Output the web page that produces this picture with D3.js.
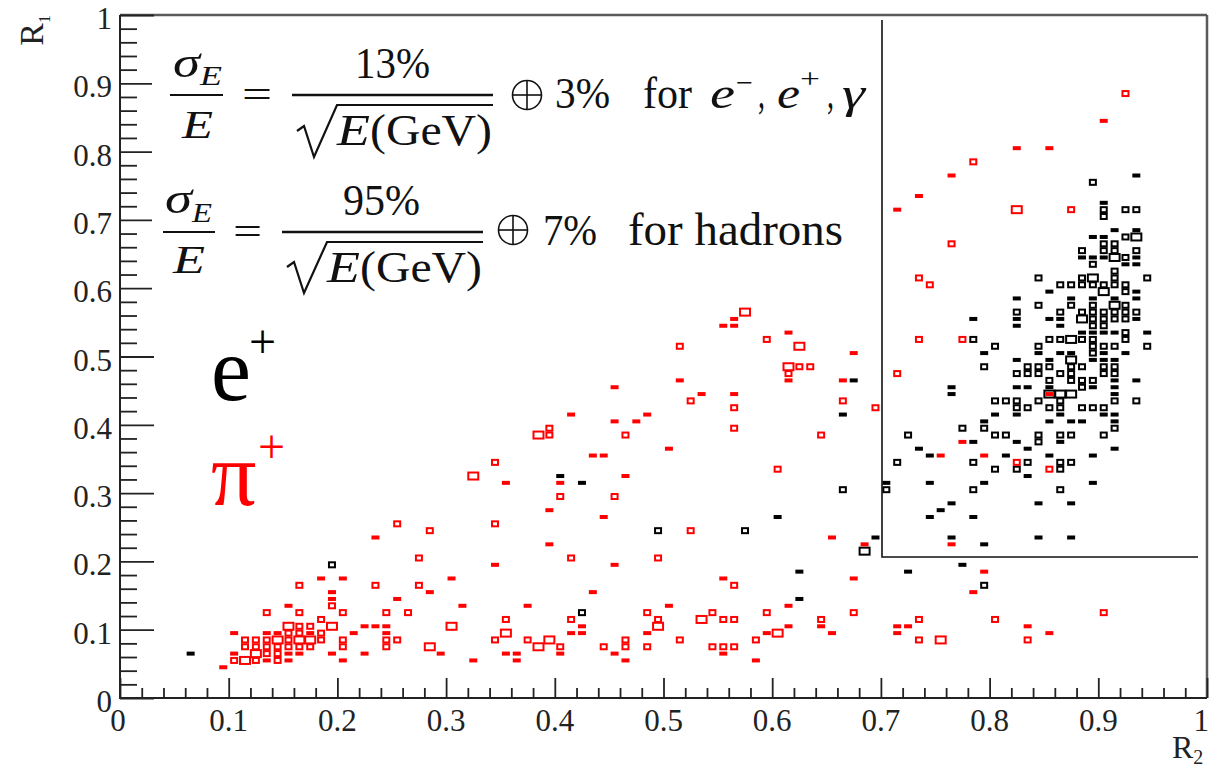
<!DOCTYPE html>
<html><head><meta charset="utf-8">
<script src="https://cdn.jsdelivr.net/npm/d3@7"></script>
<style>
html,body{margin:0;padding:0;background:#fff;overflow:hidden}
svg text{font-family:"Liberation Serif","Times New Roman","DejaVu Serif",serif}
</style>
</head><body>
<svg id="chart" width="1209" height="769"></svg>
<script>
// ---------------- data ----------------
const tickValues = [0, 0.1, 0.2, 0.3, 0.4, 0.5, 0.6, 0.7, 0.8, 0.9, 1];
const tickLabels = ["0", "0.1", "0.2", "0.3", "0.4", "0.5", "0.6", "0.7", "0.8", "0.9", "1"];
const xTitle = "R", xTitleSub = "2";
const yTitle = "R", yTitleSub = "1";
const seriesNames = ["e", "π"];           // e+ (black), π+ (red)
const seriesColors = ["#000000", "#ff0000"];

// [R2 bin centre, R1 bin centre, entries]
const positronBins = [
[0.065,0.065,1],[0.195,0.195,2],[0.405,0.325,1],[0.425,0.315,1],[0.425,0.125,2],[0.495,0.245,2],
[0.575,0.245,2],[0.605,0.265,1],[0.625,0.185,1],[0.625,0.145,1],[0.665,0.415,1],[0.665,0.305,2],
[0.675,0.465,1],[0.685,0.215,3],[0.695,0.235,1],[0.725,0.185,1],[0.775,0.195,1],[0.795,0.165,2],
[0.935,0.765,1],[0.895,0.755,2],[0.905,0.725,1],[0.905,0.715,2],[0.925,0.715,2],[0.935,0.715,2],[0.905,0.705,2],
[0.915,0.685,1],[0.935,0.685,1],
[0.895,0.675,1],[0.905,0.675,1],[0.925,0.675,2],[0.935,0.675,3],
[0.905,0.665,2],[0.915,0.665,2],
[0.885,0.655,2],[0.905,0.655,2],[0.915,0.655,2],[0.935,0.655,2],
[0.885,0.645,1],[0.895,0.645,1],[0.905,0.645,1],[0.915,0.645,3],[0.925,0.645,2],[0.935,0.645,1],
[0.895,0.635,2],[0.925,0.635,1],[0.935,0.635,1],
[0.915,0.625,2],
[0.845,0.615,2],[0.885,0.615,2],[0.895,0.615,3],[0.915,0.615,2],[0.945,0.615,2],
[0.865,0.605,2],[0.875,0.605,2],[0.885,0.605,2],[0.895,0.605,2],[0.905,0.605,2],[0.915,0.605,2],[0.925,0.605,2],
[0.855,0.595,1],[0.905,0.595,3],[0.925,0.595,2],[0.935,0.595,1],
[0.825,0.585,1],[0.875,0.585,1],[0.895,0.585,1],[0.915,0.585,1],[0.935,0.585,1],
[0.845,0.575,2],[0.875,0.575,2],[0.895,0.575,2],[0.915,0.575,3],[0.925,0.575,2],
[0.825,0.565,2],[0.865,0.565,2],[0.885,0.565,2],[0.895,0.565,2],[0.905,0.565,2],[0.915,0.565,2],[0.925,0.565,2],[0.935,0.565,2],
[0.785,0.555,1],[0.825,0.555,1],[0.855,0.555,1],[0.865,0.555,1],[0.885,0.555,3],[0.895,0.555,2],[0.905,0.555,2],[0.915,0.555,2],[0.925,0.555,2],[0.935,0.555,1],
[0.825,0.545,1],[0.865,0.545,1],[0.895,0.545,2],[0.905,0.545,2],
[0.885,0.535,1],[0.895,0.535,1],[0.905,0.535,1],[0.915,0.535,1],[0.925,0.535,2],[0.945,0.535,1],
[0.785,0.525,2],[0.855,0.525,2],[0.865,0.525,2],[0.875,0.525,3],[0.885,0.525,2],[0.895,0.525,2],[0.925,0.525,2],
[0.805,0.515,2],[0.845,0.515,2],[0.895,0.515,2],[0.905,0.515,2],[0.915,0.515,2],[0.945,0.515,2],
[0.795,0.505,1],[0.845,0.505,1],[0.865,0.505,1],[0.875,0.505,1],[0.895,0.505,2],[0.905,0.505,1],[0.925,0.505,1],
[0.825,0.495,1],[0.855,0.495,1],[0.875,0.495,3],[0.895,0.495,1],[0.905,0.495,1],[0.915,0.495,1],
[0.795,0.485,2],[0.835,0.485,2],[0.845,0.485,2],[0.855,0.485,2],[0.875,0.485,2],[0.885,0.485,2],[0.905,0.485,2],[0.915,0.485,2],
[0.825,0.475,2],[0.835,0.475,2],[0.845,0.475,2],[0.865,0.475,2],[0.875,0.475,2],[0.905,0.475,2],[0.915,0.475,2],
[0.855,0.465,2],[0.875,0.465,2],[0.885,0.465,2],[0.895,0.465,2],[0.915,0.465,1],[0.935,0.465,1],
[0.765,0.455,1],[0.825,0.455,1],[0.835,0.455,1],[0.855,0.455,1],[0.885,0.455,2],[0.895,0.455,1],[0.915,0.455,1],
[0.765,0.445,1],[0.855,0.445,3],[0.865,0.445,3],[0.875,0.445,3],[0.915,0.445,1],
[0.805,0.435,2],[0.815,0.435,2],[0.825,0.435,2],[0.845,0.435,2],[0.865,0.435,2],[0.915,0.435,2],[0.935,0.435,2],
[0.825,0.425,2],[0.835,0.425,2],[0.855,0.425,2],[0.865,0.425,2],[0.885,0.425,2],[0.895,0.425,2],[0.905,0.425,2],
[0.805,0.415,1],[0.825,0.415,1],[0.865,0.415,1],[0.905,0.415,1],[0.915,0.415,1],
[0.795,0.405,1],[0.855,0.405,1],[0.875,0.405,1],[0.885,0.405,1],[0.915,0.405,1],
[0.775,0.395,2],[0.795,0.395,2],[0.915,0.395,2],
[0.725,0.385,2],[0.805,0.385,2],[0.815,0.385,2],[0.845,0.385,2],[0.865,0.385,2],[0.875,0.385,2],[0.905,0.385,2],
[0.785,0.375,1],[0.825,0.375,1],[0.845,0.375,2],[0.865,0.375,1],
[0.735,0.365,1],[0.835,0.365,1],[0.915,0.365,1],
[0.745,0.355,1],[0.815,0.355,1],[0.855,0.355,1],[0.895,0.355,1],
[0.715,0.345,2],[0.785,0.345,2],[0.835,0.345,2],[0.865,0.345,2],[0.875,0.345,2],
[0.805,0.335,2],[0.825,0.335,2],[0.865,0.335,2],
[0.835,0.325,1],
[0.705,0.315,1],[0.745,0.315,1],[0.795,0.315,1],[0.895,0.315,1],
[0.705,0.305,2],[0.785,0.305,2],[0.865,0.305,2],
[0.765,0.285,1],[0.845,0.285,1],[0.875,0.285,1],
[0.755,0.275,1],
[0.745,0.265,1],[0.785,0.265,1],
[0.765,0.235,1],[0.845,0.235,1],[0.875,0.235,1],
[0.795,0.225,1]
];

const pionBins = [
[0.095,0.045,1],
[0.105,0.095,1],[0.105,0.065,1],[0.105,0.055,2],
[0.115,0.085,2],[0.115,0.075,2],[0.115,0.055,3],
[0.125,0.085,2],[0.125,0.075,2],[0.125,0.065,3],[0.125,0.055,2],
[0.135,0.125,2],[0.135,0.095,1],[0.135,0.085,2],[0.135,0.075,2],[0.135,0.065,2],[0.135,0.055,1],
[0.145,0.095,1],[0.145,0.085,3],[0.145,0.075,2],[0.145,0.065,2],[0.145,0.055,2],
[0.155,0.135,1],[0.155,0.105,3],[0.155,0.095,2],[0.155,0.085,2],[0.155,0.075,2],[0.155,0.065,1],[0.155,0.055,1],
[0.165,0.165,2],[0.165,0.125,2],[0.165,0.105,2],[0.165,0.095,2],[0.165,0.085,3],[0.165,0.075,2],[0.165,0.065,1],
[0.175,0.105,2],[0.175,0.095,1],[0.175,0.085,3],[0.175,0.075,2],
[0.185,0.175,1],[0.185,0.115,2],[0.185,0.095,2],[0.185,0.085,2],
[0.195,0.155,1],[0.195,0.145,1],[0.195,0.135,2],[0.195,0.105,3],[0.195,0.065,1],
[0.205,0.175,1],[0.205,0.125,2],[0.205,0.085,2],[0.205,0.075,2],[0.205,0.055,1],
[0.215,0.095,1],
[0.225,0.105,1],[0.225,0.065,1],
[0.235,0.235,1],[0.235,0.165,2],[0.235,0.105,1],
[0.245,0.125,2],[0.245,0.105,1],[0.245,0.095,1],[0.245,0.085,2],[0.245,0.075,2],
[0.255,0.255,2],[0.255,0.145,1],[0.255,0.085,2],
[0.265,0.125,2],
[0.275,0.205,2],[0.275,0.165,2],
[0.285,0.245,2],[0.285,0.155,1],[0.285,0.075,3],
[0.295,0.065,1],
[0.305,0.175,1],[0.305,0.105,3],
[0.315,0.135,1],
[0.325,0.325,3],[0.325,0.055,1],
[0.345,0.345,2],[0.345,0.255,2],[0.345,0.195,1],[0.345,0.085,2],
[0.355,0.315,1],[0.355,0.115,2],[0.355,0.095,3],[0.355,0.065,1],
[0.365,0.065,1],[0.365,0.055,1],
[0.375,0.135,1],[0.375,0.085,2],
[0.385,0.385,3],[0.385,0.075,3],
[0.395,0.395,2],[0.395,0.385,2],[0.395,0.275,1],[0.395,0.225,1],[0.395,0.085,3],
[0.405,0.315,1],[0.405,0.295,2],[0.405,0.075,2],[0.405,0.065,1],
[0.415,0.415,1],[0.415,0.205,2],[0.415,0.115,2],[0.415,0.095,1],
[0.425,0.105,1],[0.425,0.095,1],
[0.435,0.355,1],[0.435,0.155,1],
[0.445,0.355,1],[0.445,0.265,1],[0.445,0.075,2],
[0.455,0.455,1],[0.455,0.405,1],[0.455,0.295,2],[0.455,0.195,1],[0.455,0.065,1],
[0.465,0.385,2],[0.465,0.325,1],[0.465,0.085,2],[0.465,0.075,2],[0.465,0.055,1],
[0.475,0.405,1],
[0.485,0.415,1],[0.485,0.125,2],[0.485,0.095,1],[0.485,0.075,2],
[0.495,0.205,2],[0.495,0.115,2],[0.495,0.105,3],
[0.505,0.365,1],[0.505,0.135,1],
[0.515,0.515,2],[0.515,0.465,1],[0.515,0.085,2],
[0.525,0.435,2],[0.525,0.245,2],
[0.535,0.445,1],[0.535,0.115,3],
[0.545,0.125,2],[0.545,0.075,2],
[0.555,0.545,1],[0.555,0.175,1],[0.555,0.115,2],[0.555,0.075,2],[0.555,0.065,1],
[0.565,0.555,1],[0.565,0.545,1],[0.565,0.445,1],[0.565,0.425,2],[0.565,0.395,2],[0.565,0.165,2],[0.565,0.115,2],[0.565,0.075,2],
[0.575,0.565,3],
[0.585,0.085,2],[0.585,0.055,1],
[0.595,0.525,2],[0.595,0.125,2],[0.595,0.095,1],
[0.605,0.335,2],[0.605,0.095,3],
[0.615,0.535,1],[0.615,0.485,3],[0.615,0.475,2],[0.615,0.465,1],[0.615,0.135,1],[0.615,0.105,1],
[0.625,0.515,3],[0.625,0.485,2],
[0.635,0.485,2],
[0.645,0.385,2],[0.645,0.115,2],[0.645,0.105,1],
[0.655,0.235,1],[0.655,0.095,1],
[0.665,0.465,1],[0.665,0.435,2],
[0.675,0.505,1],[0.675,0.175,1],[0.675,0.125,2],
[0.685,0.655,2],[0.685,0.225,1],
[0.695,0.425,2],
[0.715,0.715,1],[0.715,0.475,2],[0.715,0.105,1],[0.715,0.095,1],
[0.725,0.105,1],
[0.735,0.735,1],[0.735,0.615,2],[0.735,0.525,2],[0.735,0.115,2],[0.735,0.085,2],
[0.745,0.605,2],
[0.755,0.355,1],[0.755,0.085,3],
[0.765,0.765,1],[0.765,0.665,2],[0.765,0.225,1],
[0.775,0.525,2],[0.775,0.375,1],
[0.785,0.785,2],[0.785,0.155,1],
[0.795,0.355,1],[0.795,0.185,1],
[0.805,0.115,2],
[0.825,0.805,1],[0.825,0.715,3],[0.825,0.345,2],
[0.835,0.105,1],[0.835,0.085,2],
[0.855,0.805,1],[0.855,0.445,1],[0.855,0.335,2],[0.855,0.095,1],
[0.875,0.715,2],
[0.905,0.845,1],[0.905,0.125,2],
[0.925,0.885,2]
];

// ---------------- drawing ----------------
const svg = d3.select("#chart");
const x = d3.scaleLinear().domain([0, 1]).range([120, 1207]);
const y = d3.scaleLinear().domain([0, 1]).range([698, 15]);
const minorTicks = d3.range(0, 1.0001, 0.02).filter(v => Math.abs(v * 10 - Math.round(v * 10)) > 1e-6);

// frame (top / right)
svg.append("line").attr("x1", x(0)).attr("x2", x(1)).attr("y1", y(1)).attr("y2", y(1))
  .attr("stroke", "#5a5a5a").attr("stroke-width", 2.5);
svg.append("line").attr("x1", x(1)).attr("x2", x(1)).attr("y1", y(1)).attr("y2", y(0))
  .attr("stroke", "#5a5a5a").attr("stroke-width", 2.5);

function styleAxis(g) {
  g.select(".domain").remove();
  g.selectAll(".tick line").attr("stroke", "#222").attr("stroke-width", 1.8);
  g.selectAll(".tick text").remove();
}
svg.append("g").attr("transform", `translate(${x(0)},0)`)
  .call(d3.axisRight(y).tickValues(tickValues).tickSize(34).tickFormat(() => "")).call(styleAxis);
svg.append("g").attr("transform", `translate(${x(0)},0)`)
  .call(d3.axisRight(y).tickValues(minorTicks).tickSize(17).tickFormat(() => "")).call(styleAxis);
svg.append("g").attr("transform", `translate(0,${y(0)})`)
  .call(d3.axisTop(x).tickValues(tickValues).tickSize(20).tickFormat(() => "")).call(styleAxis);
svg.append("g").attr("transform", `translate(0,${y(0)})`)
  .call(d3.axisTop(x).tickValues(minorTicks).tickSize(10).tickFormat(() => "")).call(styleAxis);

svg.append("line").attr("x1", x(0)).attr("x2", x(0)).attr("y1", y(0) + 1).attr("y2", y(1))
  .attr("stroke", "#222").attr("stroke-width", 2);
svg.append("line").attr("x1", x(0)).attr("x2", x(1)).attr("y1", y(0)).attr("y2", y(0))
  .attr("stroke", "#222").attr("stroke-width", 2);

// tick labels
svg.append("g").selectAll("text").data(tickValues).join("text")
  .attr("x", 112).attr("y", d => y(d) + 14).attr("text-anchor", "end")
  .attr("font-size", 31).attr("fill", "#222")
  .text((d, i) => tickLabels[i]);
svg.append("g").selectAll("text").data(tickValues).join("text")
  .attr("x", d => d === 1 ? 1209 : x(d) - (d === 0 ? 2 : 0)).attr("y", 731)
  .attr("text-anchor", d => d === 1 ? "end" : "middle")
  .attr("font-size", 31).attr("fill", "#222")
  .text((d, i) => tickLabels[i]);

// markers (box style, size grows with entries)
const boxStyle = {1: {w: 8, h: 4, sw: 0}, 2: {w: 6, h: 5, sw: 2}, 3: {w: 10, h: 7, sw: 2}};
function drawBins(data, color) {
  svg.append("g").selectAll("rect").data(data).join("rect")
    .attr("x", d => x(d[0]) - boxStyle[d[2]].w / 2)
    .attr("y", d => y(d[1]) - boxStyle[d[2]].h / 2)
    .attr("width", d => boxStyle[d[2]].w)
    .attr("height", d => boxStyle[d[2]].h)
    .attr("fill", d => d[2] === 1 ? color : "none")
    .attr("stroke", d => d[2] === 1 ? "none" : color)
    .attr("stroke-width", d => boxStyle[d[2]].sw);
}
drawBins(positronBins, seriesColors[0]);
drawBins(pionBins, seriesColors[1]);

// formula panel
svg.append("rect").attr("x", 152).attr("y", 17).attr("width", 720).attr("height", 285).attr("fill", "#fff");
const F = svg.append("g").attr("fill", "#111");
function T(t, px, py, size, w, italic) {
  const e = F.append("text").attr("x", px).attr("y", py).attr("font-size", size)
    .attr("font-style", italic ? "italic" : "normal").text(t);
  if (w) e.attr("textLength", w).attr("lengthAdjust", "spacingAndGlyphs");
  return e;
}
function line(x1, y1, x2, y2, sw) {
  F.append("line").attr("x1", x1).attr("y1", y1).attr("x2", x2).attr("y2", y2)
    .attr("stroke", "#111").attr("stroke-width", sw || 2);
}
function radical(x0, yTop, yBot, x1) {
  F.append("path").attr("d", `M${x0},${yBot - 26} L${x0 + 7},${yBot - 31} L${x0 + 17},${yBot} L${x0 + 40},${yTop} L${x1},${yTop}`)
    .attr("fill", "none").attr("stroke", "#111").attr("stroke-width", 2.2);
}
function oplus(cx, cy) {   // direct-sum operator
  const r = 14.5;
  F.append("circle").attr("cx", cx).attr("cy", cy).attr("r", r).attr("fill", "none").attr("stroke", "#111").attr("stroke-width", 1.6);
  line(cx - r, cy, cx + r, cy, 1.6);
  line(cx, cy - r, cx, cy + r, 1.6);
}
// line 1
T("σ", 173, 77, 44, 27, true); T("E", 200, 85, 28, 22, true);
line(170, 95, 223, 95);
T("E", 182, 138, 40, 31, true);
T("=", 242, 108, 40, 30);
T("13%", 355, 78, 44, 75);
line(292, 95, 493, 95, 2.4);
radical(297, 105, 157, 493);
T("E", 337, 145, 44, 33, true); T("(GeV)", 370, 145, 44, 122);
oplus(527, 95);
T("3%", 555, 108, 44, 55);
T("for", 643, 108, 44, 49);
T("e", 710, 108, 44, 25, true); T("−", 736, 92, 28, 17);
T(",", 758, 108, 44, 7);
T("e", 777, 108, 44, 23, true); T("+", 800, 88, 28, 20);
T(",", 827, 108, 44, 7);
T("γ", 842, 108, 44, 23, true);
// line 2
T("σ", 165, 213, 44, 27, true); T("E", 192, 222, 28, 20, true);
line(163, 232, 215, 232);
T("E", 173, 273, 40, 32, true);
T("=", 233, 245, 40, 29);
T("95%", 343, 215, 44, 77);
line(282, 232, 483, 232, 2.4);
radical(287, 242, 293, 483);
T("E", 327, 282, 44, 33, true); T("(GeV)", 360, 282, 44, 122);
oplus(513, 230);
T("7%", 543, 245, 44, 54);
T("for hadrons", 628, 245, 46, 215);

// inset frame
svg.append("path").attr("d", "M882,20 L882,557 L1198,557").attr("fill", "none")
  .attr("stroke", "#111").attr("stroke-width", 1.6);

// particle labels
const lab = svg.append("g");
lab.append("text").attr("x", 211).attr("y", 400).attr("font-size", 90).attr("fill", seriesColors[0]).text(seriesNames[0]);
lab.append("text").attr("x", 249).attr("y", 358).attr("font-size", 48).attr("fill", seriesColors[0]).text("+");
lab.append("text").attr("x", 211).attr("y", 505).attr("font-size", 90).attr("fill", seriesColors[1]).text(seriesNames[1]);
lab.append("text").attr("x", 258).attr("y", 463).attr("font-size", 48).attr("fill", seriesColors[1]).text("+");

// axis titles
const yt = svg.append("text").attr("transform", "translate(43,15) rotate(-90)")
  .attr("text-anchor", "end").attr("font-size", 34).attr("fill", "#222");
yt.append("tspan").text(yTitle);
yt.append("tspan").attr("font-size", 16).attr("dy", 7).text(yTitleSub);
const xt = svg.append("text").attr("x", 1172).attr("y", 758)
  .attr("font-size", 32).attr("fill", "#222");
xt.append("tspan").text(xTitle);
xt.append("tspan").attr("font-size", 20).attr("dy", 6).text(xTitleSub);
</script>
</body></html>
